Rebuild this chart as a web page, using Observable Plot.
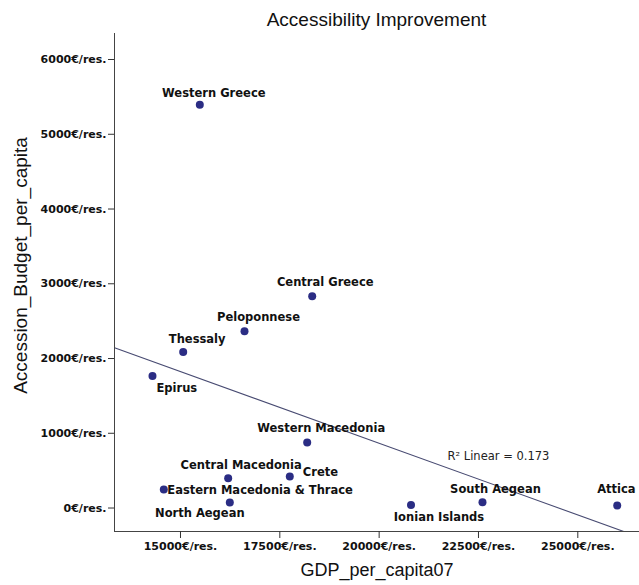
<!DOCTYPE html>
<html><head><meta charset="utf-8">
<script src="https://cdn.jsdelivr.net/npm/d3@7"></script>
<script src="https://cdn.jsdelivr.net/npm/@observablehq/plot@0.6"></script>
<style>
body{margin:0;background:#fff;}
#title{width:639px;height:33px;box-sizing:border-box;padding-top:10px;padding-left:114px;line-height:19px;font-size:19px;font-family:"Liberation Sans",Arial,sans-serif;text-align:center;color:#111;}
</style></head><body>
<div id="title"></div>
<div id="chart"></div>
<script>
// ---- data ----
const titleText = "Accessibility Improvement";
const xLabel = "GDP_per_capita07";
const yLabel = "Accession_Budget_per_capita";
const regions = ["Western Greece","Central Greece","Peloponnese","Thessaly","Epirus","Western Macedonia","Central Macedonia","Crete","Eastern Macedonia & Thrace","North Aegean","Ionian Islands","South Aegean","Attica"];
const gdpPerCapita = [15486,18315,16611,15068,14295,18189,16200,17751,14580,16241,20802,22601,25992];
const budgetPerCapita = [5394,2832,2364,2086,1767,876,398,421,247,74,40,78,33];
const xTicks = [15000,17500,20000,22500,25000];
const yTicks = [0,1000,2000,3000,4000,5000,6000];
const tickSuffix = "€/res.";
const r2Text = "R² Linear = 0.173";
const xDomain = [13339, 26553];
const yDomain = [-314, 6348];

// ---- label placement (style) ----
const labelPlacement = {
  "Western Greece": {anchor:"middle", dx:14, dy:-12},
  "Central Greece": {anchor:"middle", dx:13, dy:-14},
  "Peloponnese": {anchor:"middle", dx:14, dy:-14},
  "Thessaly": {anchor:"middle", dx:14, dy:-13},
  "Epirus": {anchor:"start", dx:4, dy:12},
  "Western Macedonia": {anchor:"middle", dx:14, dy:-14},
  "Central Macedonia": {anchor:"middle", dx:13, dy:-13},
  "Crete": {anchor:"start", dx:13, dy:-4},
  "Eastern Macedonia & Thrace": {anchor:"start", dx:3.5, dy:1},
  "North Aegean": {anchor:"middle", dx:-30, dy:11},
  "Ionian Islands": {anchor:"middle", dx:28, dy:12},
  "South Aegean": {anchor:"middle", dx:13, dy:-13},
  "Attica": {anchor:"start", dx:-20, dy:-16}
};

document.getElementById("title").textContent = titleText;

const points = regions.map((name, i) => ({name, gdp: gdpPerCapita[i], budget: budgetPerCapita[i]}));

// least-squares fit from the data
const mx = d3.mean(gdpPerCapita), my = d3.mean(budgetPerCapita);
const sxy = d3.sum(gdpPerCapita, (x, i) => (x - mx) * (budgetPerCapita[i] - my));
const sxx = d3.sum(gdpPerCapita, x => (x - mx) ** 2);
const slope = sxy / sxx, intercept = my - slope * mx;
const fit = xDomain.map(x => ({x, y: intercept + slope * x}));

const font = "DejaVu Sans, Verdana, sans-serif";
const labelMarks = points.map(p => {
  const pl = labelPlacement[p.name];
  return Plot.text([p], {x: "gdp", y: "budget", text: "name", textAnchor: pl.anchor, dx: pl.dx, dy: pl.dy,
    fontSize: 11.5, fontWeight: "bold", fontFamily: font, fill: "#111"});
});

const chart = Plot.plot({
  width: 639, height: 552,
  marginLeft: 114, marginRight: 0, marginTop: 0, marginBottom: 54,
  x: {domain: xDomain},
  y: {domain: yDomain},
  style: {fontFamily: font, background: "#fff", overflow: "visible"},
  marks: [
    Plot.line(fit, {x: "x", y: "y", stroke: "#484b72", strokeWidth: 1.1, clip: true}),
    Plot.ruleX([xDomain[0]], {stroke: "#444", strokeWidth: 1}),
    Plot.ruleY([yDomain[0]], {stroke: "#444", strokeWidth: 1}),
    Plot.axisY(yTicks, {tickSize: 6, tickPadding: 2, tickFormat: d => d + tickSuffix, fontSize: 11, fontWeight: "bold", fill: "#111", stroke: "#333", label: null}),
    Plot.axisX(xTicks, {tickSize: 7, tickPadding: 4, tickFormat: d => d + tickSuffix, fontSize: 11, fontWeight: "bold", fill: "#111", stroke: "#333", label: null}),
    Plot.dot(points, {x: "gdp", y: "budget", r: 4, fill: "#2b2d84", stroke: null}),
    ...labelMarks,
    Plot.text([r2Text], {frameAnchor: "top-left", dx: 333, dy: 418, textAnchor: "start", fontSize: 11.5, fontWeight: "normal", fontFamily: font, fill: "#222"}),
    Plot.text([yLabel], {frameAnchor: "left", textAnchor: "middle", dx: -94, dy: -17, rotate: -90, fontSize: 19, fontFamily: "Liberation Sans, Arial, sans-serif", fill: "#111"}),
    Plot.text([xLabel], {frameAnchor: "bottom", textAnchor: "middle", dy: 44, fontSize: 18, fontFamily: "Liberation Sans, Arial, sans-serif", fill: "#111"})
  ]
});
document.getElementById("chart").appendChild(chart);
</script>
</body></html>
